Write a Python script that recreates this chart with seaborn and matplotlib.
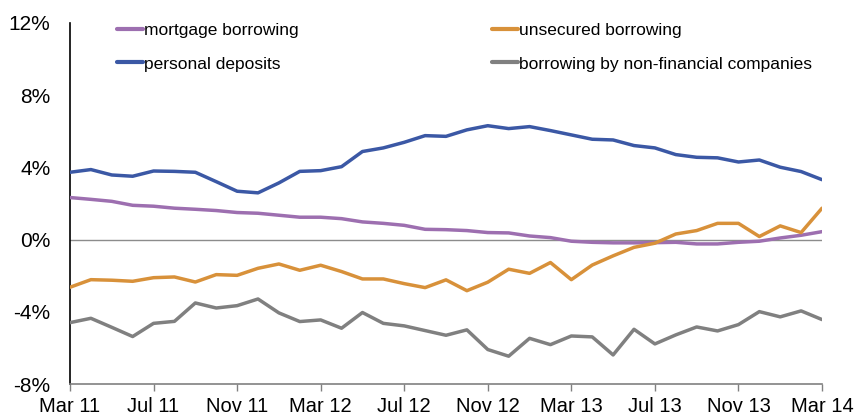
import matplotlib
matplotlib.use("Agg")
import matplotlib.pyplot as plt
import seaborn as sns
import pandas as pd
import numpy as np

months = pd.date_range("2011-03-01", periods=37, freq="MS")
tick_labels = ["Mar 11", "Jul 11", "Nov 11", "Mar 12", "Jul 12", "Nov 12",
               "Mar 13", "Jul 13", "Nov 13", "Mar 14"]

mortgage = [2.33, 2.23, 2.12, 1.90, 1.85, 1.74, 1.68, 1.61, 1.50, 1.46,
            1.35, 1.24, 1.24, 1.16, 0.98, 0.90, 0.79, 0.57, 0.55, 0.50, 0.39, 0.37,
            0.20, 0.11, -0.09, -0.15, -0.18, -0.18, -0.17, -0.15, -0.24, -0.24, -0.15, -0.09,
            0.09, 0.24, 0.44]
unsecured = [-2.64, -2.22, -2.25, -2.31, -2.11, -2.07, -2.35, -1.94, -1.98, -1.59,
             -1.35, -1.70, -1.42, -1.77, -2.18, -2.18, -2.44, -2.66, -2.23, -2.83, -2.36, -1.64,
             -1.87, -1.27, -2.22, -1.41, -0.90, -0.43, -0.20, 0.31, 0.50, 0.90, 0.90, 0.17,
             0.76, 0.39, 1.74]
deposits = [3.73, 3.88, 3.58, 3.51, 3.80, 3.78, 3.73, 3.21, 2.68, 2.59,
            3.14, 3.78, 3.82, 4.04, 4.88, 5.08, 5.39, 5.76, 5.72, 6.08, 6.31, 6.15,
            6.26, 6.04, 5.80, 5.56, 5.52, 5.21, 5.08, 4.71, 4.56, 4.53, 4.30, 4.41,
            4.01, 3.77, 3.32]
nonfin = [-4.60, -4.36, -4.86, -5.37, -4.64, -4.53, -3.51, -3.79, -3.66, -3.29,
          -4.06, -4.54, -4.45, -4.91, -4.04, -4.64, -4.78, -5.04, -5.30, -5.00, -6.09, -6.46,
          -5.47, -5.82, -5.34, -5.39, -6.39, -4.97, -5.78, -5.28, -4.84, -5.06, -4.71, -3.99,
          -4.28, -3.95, -4.43]

names = ["mortgage borrowing", "unsecured borrowing", "personal deposits",
         "borrowing by non-financial companies"]
colors = ["#9D6FB0", "#D8913A", "#3B58A5", "#808080"]

idx = np.arange(len(months))
df = pd.concat([
    pd.DataFrame({"x": idx, "value": vals, "series": name})
    for name, vals in zip(names, [mortgage, unsecured, deposits, nonfin])
])

sns.set_style("white")
plt.rcParams["font.family"] = ["Liberation Sans", "DejaVu Sans"]
plt.rcParams["text.color"] = "black"

fig = plt.figure(figsize=(8.57, 4.19), dpi=100)
ax = fig.add_axes([70 / 857, 1 - 384 / 419, 752 / 857, 361 / 419])

ax.axhline(0, color="#8c8c8c", lw=1.0, zorder=1)
sns.lineplot(data=df, x="x", y="value", hue="series", hue_order=names,
             palette=colors, linewidth=2.5, ax=ax, legend=True, zorder=3)

ax.set_xlim(0, 36)
ax.set_ylim(-8, 12)
ax.set_xticks(idx[::4])
ax.set_xticklabels(tick_labels)
ax.set_yticks([-8, -4, 0, 4, 8, 12])
ax.set_yticklabels([f"{v}%" for v in [-8, -4, 0, 4, 8, 12]])
ax.set_xlabel("")
ax.set_ylabel("")

for s in ["top", "right"]:
    ax.spines[s].set_visible(False)
ax.spines["left"].set_color("#000000")
ax.spines["left"].set_linewidth(1.2)
ax.spines["bottom"].set_color("#808080")
ax.spines["bottom"].set_linewidth(1.2)
ax.tick_params(axis="x", direction="out", length=5, width=1, color="#808080",
               labelsize=14.5, pad=4.5, bottom=True, labelcolor="black")
ax.tick_params(axis="y", length=0, labelsize=15, pad=14, left=False, labelcolor="black")

handles, labels = ax.get_legend_handles_labels()
order = [0, 2, 1, 3]
leg = ax.legend([handles[i] for i in order], [labels[i] for i in order],
                ncol=2, loc="upper left", bbox_to_anchor=(117 / 857, 1 - 23 / 419),
                bbox_transform=fig.transFigure, frameon=False, fontsize=12.5,
                handlelength=1.5, handletextpad=0.05, columnspacing=11.15,
                labelspacing=1.05, borderpad=0, borderaxespad=0)
for line in leg.get_lines():
    line.set_linewidth(3)
for t in leg.get_texts():
    t.set_color("black")

fig.savefig("out.png", dpi=100)
